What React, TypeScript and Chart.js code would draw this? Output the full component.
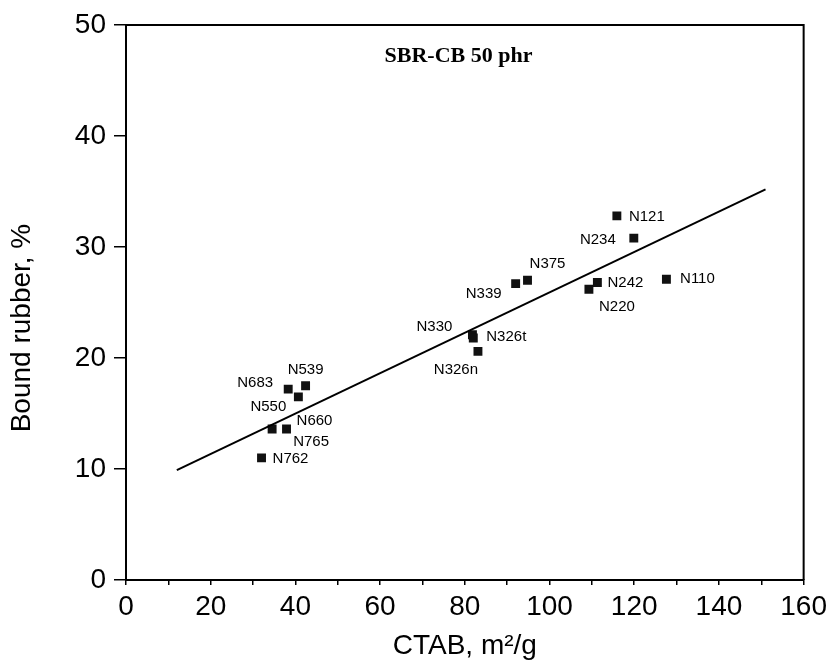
import React, { useEffect, useRef } from "react";
import { Chart, registerables } from "chart.js";

Chart.register(...registerables);

// ---- data ----
const grades = ["N121", "N234", "N375", "N339", "N242", "N220", "N110", "N330", "N326t", "N326n", "N683", "N539", "N550", "N660", "N765", "N762"];
const ctab = [115.9, 119.9, 94.8, 92.0, 111.3, 109.3, 127.6, 81.8, 82.0, 83.1, 38.3, 42.4, 40.7, 37.9, 34.5, 32.0];
const boundRubber = [32.8, 30.8, 27.0, 26.7, 26.8, 26.2, 27.1, 22.1, 21.8, 20.6, 17.2, 17.5, 16.5, 13.6, 13.6, 11.0];
const fitX = [12, 151];
const fitY = [9.9, 35.2];
const xTickLabels = [0, 20, 40, 60, 80, 100, 120, 140, 160];
const yTickLabels = [0, 10, 20, 30, 40, 50];
const chartTitle = "SBR-CB 50 phr";
const xTitle = "CTAB, m\u00B2/g";
const yTitle = "Bound rubber, %";

// label placement (pixel offsets of the text centre from its point)
const labelOffsets: Record<string, [number, number]> = {
  N121: [30, 1],
  N234: [-36, 2],
  N375: [20, -16],
  N339: [-32, 10],
  N242: [28, 0],
  N220: [28, 18],
  N110: [31, 0],
  N330: [-38, -8],
  N326t: [33, -1],
  N326n: [-22, 19],
  N683: [-33, -6],
  N539: [0, -16],
  N550: [-30, 10],
  N660: [28, -8],
  N765: [39, 13],
  N762: [29, 1],
};

const SANS = "'Liberation Sans', Arial, Helvetica, sans-serif";
const SERIF = "'Liberation Serif', 'Times New Roman', serif";

const framePlugin = {
  id: "frame",
  afterDraw(chart: any) {
    const { ctx, chartArea } = chart;
    ctx.save();
    ctx.strokeStyle = "#000";
    ctx.lineWidth = 2;
    ctx.beginPath();
    ctx.moveTo(chartArea.left, chartArea.top);
    ctx.lineTo(chartArea.right, chartArea.top);
    ctx.lineTo(chartArea.right, chartArea.bottom);
    ctx.stroke();
    ctx.fillStyle = "#000";
    ctx.textAlign = "center";
    ctx.textBaseline = "middle";
    // title inside plot
    ctx.font = `bold 22px ${SERIF}`;
    ctx.fillText(chartTitle, chart.scales.x.getPixelForValue(78.5), chartArea.top + 31);
    // y axis title
    ctx.save();
    ctx.translate(22, chart.scales.y.getPixelForValue(22.7));
    ctx.rotate(-Math.PI / 2);
    ctx.font = `28px ${SANS}`;
    ctx.fillText(yTitle, 0, 0);
    ctx.restore();
    ctx.restore();
  },
};

const labelPlugin = {
  id: "pointLabels",
  afterDatasetsDraw(chart: any) {
    const { ctx } = chart;
    const meta = chart.getDatasetMeta(1);
    ctx.save();
    ctx.fillStyle = "#000";
    ctx.font = `15px ${SANS}`;
    ctx.textAlign = "center";
    ctx.textBaseline = "middle";
    meta.data.forEach((el: any, i: number) => {
      const name = grades[i];
      const off = labelOffsets[name] || [25, 0];
      ctx.fillText(name, el.x + off[0], el.y + off[1]);
    });
    ctx.restore();
  },
};

export default function App() {
  const ref = useRef<HTMLCanvasElement | null>(null);

  useEffect(() => {
    if (!ref.current) return;
    const chart = new Chart(ref.current, {
      type: "scatter",
      data: {
        datasets: [
          {
            type: "line",
            label: "fit",
            data: fitX.map((x, i) => ({ x, y: fitY[i] })),
            borderColor: "#000",
            borderWidth: 2,
            pointRadius: 0,
            fill: false,
          },
          {
            label: "grades",
            data: ctab.map((x, i) => ({ x, y: boundRubber[i] })),
            pointStyle: "rect",
            pointRadius: 6.3,
            backgroundColor: "#111",
            borderColor: "#111",
            borderWidth: 0,
          },
        ],
      },
      options: {
        responsive: false,
        animation: false,
        layout: { padding: { top: 25, right: 28, left: 0, bottom: 0 } },
        plugins: {
          legend: { display: false },
          tooltip: { enabled: false },
        },
        scales: {
          x: {
            type: "linear",
            min: 0,
            max: 160,
            afterFit(scale: any) {
              scale.height = 84;
            },
            afterBuildTicks(scale: any) {
              const t = [];
              for (let v = 0; v <= 160; v += 10) t.push({ value: v });
              scale.ticks = t;
            },
            border: { color: "#000", width: 2 },
            grid: { display: true, drawOnChartArea: false, drawTicks: true, tickLength: 5, color: "#000", lineWidth: 1.5 },
            ticks: {
              autoSkip: false,
              maxRotation: 0,
              color: "#000",
              padding: 5,
              font: { family: SANS, size: 28 },
              callback: (v: any) => (xTickLabels.includes(Number(v)) ? String(v) : ""),
            },
            title: {
              display: true,
              text: xTitle,
              color: "#000",
              font: { family: SANS, size: 28 },
              padding: { top: 0, bottom: 1 },
            },
          },
          y: {
            type: "linear",
            min: 0,
            max: 50,
            afterFit(scale: any) {
              scale.width = 126;
            },
            afterBuildTicks(scale: any) {
              scale.ticks = yTickLabels.map((v) => ({ value: v }));
            },
            border: { color: "#000", width: 2 },
            grid: { display: true, drawOnChartArea: false, drawTicks: true, tickLength: 12, color: "#000", lineWidth: 1.5 },
            ticks: {
              color: "#000",
              padding: 8,
              font: { family: SANS, size: 28 },
            },
          },
        },
      },
      plugins: [framePlugin, labelPlugin],
    });
    return () => chart.destroy();
  }, []);

  return (
    <div style={{ position: "absolute", left: 0, top: 0, width: 832, height: 664, background: "#fff" }}>
      <canvas ref={ref} width={832} height={664} style={{ width: 832, height: 664, display: "block" }} />
    </div>
  );
}
